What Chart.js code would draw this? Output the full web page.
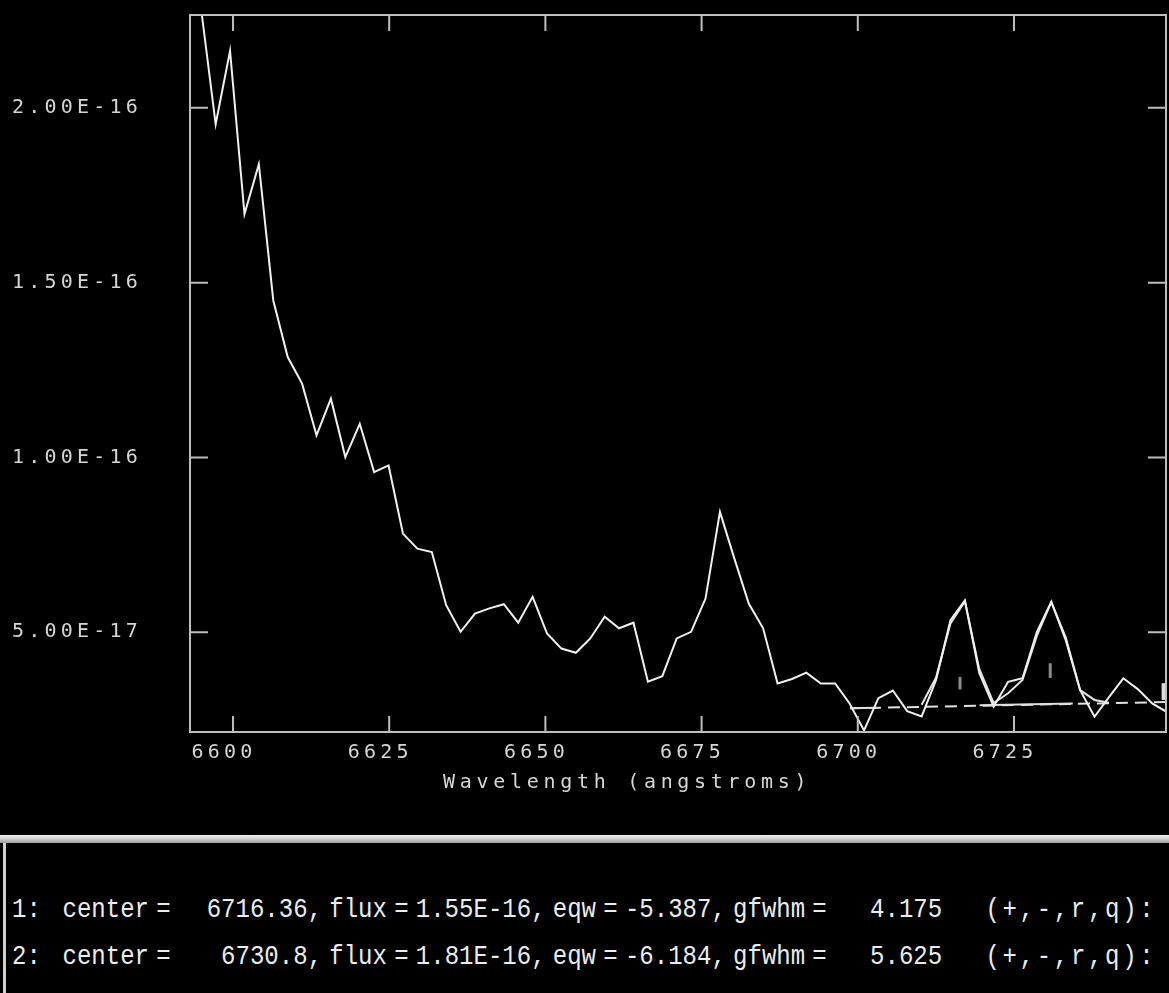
<!DOCTYPE html>
<html>
<head>
<meta charset="utf-8">
<title>splot deblend</title>
<script src="https://cdn.jsdelivr.net/npm/chart.js@4.4.0/dist/chart.umd.min.js"></script>
<style>
  html, body { margin: 0; padding: 0; background: #000; }
  body { width: 1169px; height: 993px; position: relative; overflow: hidden; }
  #plot { position: absolute; left: 0; top: 0; width: 1169px; height: 833px; }
  #panel { position: absolute; left: 0; top: 835px; width: 1169px; height: 158px; background: #000; }
  #bar { height: 8px; background: linear-gradient(#f0f0f0, #cfcfcf 50%, #9c9c9c); }
  #edge { position: absolute; left: 3px; top: 8px; bottom: 0; width: 3px; background: #d0d0d0; }
  .msg { position: absolute; left: 12px; font-family: "Liberation Mono", monospace; font-size: 27px;
         line-height: 30px; word-spacing: -8.1px; color: #ececec; white-space: pre;
         transform: scaleX(0.89); transform-origin: left center; }
  .msg .q { letter-spacing: 3px; }
</style>
</head>
<body>
<div id="plot"><canvas id="spec"></canvas></div>
<div id="panel">
  <div id="bar"></div>
  <div id="edge"></div>
  <div class="msg" style="top:60px">1:   center =     6716.36, flux = 1.55E-16, eqw = -5.387, gfwhm =      4.175      <span class="q">(+,-,r,q):</span></div>
  <div class="msg" style="top:107px">2:   center =       6730.8, flux = 1.81E-16, eqw = -6.184, gfwhm =      5.625      <span class="q">(+,-,r,q):</span></div>
</div>
<script>
// observed spectrum, flux in units of 1e-17
const wavelengths = [
  6594.92, 6597.23, 6599.53, 6601.84, 6604.14, 6606.45, 6608.76, 6611.06, 6613.37, 6615.67,
  6617.98, 6620.29, 6622.59, 6624.90, 6627.20, 6629.51, 6631.82, 6634.12, 6636.43, 6638.73,
  6641.04, 6643.35, 6645.65, 6647.96, 6650.26, 6652.57, 6654.88, 6657.18, 6659.49, 6661.79,
  6664.10, 6666.41, 6668.71, 6671.02, 6673.32, 6675.63, 6677.94, 6680.24, 6682.55, 6684.85,
  6687.16, 6689.47, 6691.77, 6694.08, 6696.38, 6698.69, 6701.00, 6703.30, 6705.61, 6707.91,
  6710.22, 6712.53, 6714.83, 6717.14, 6719.44, 6721.75, 6724.06, 6726.36, 6728.67, 6730.97,
  6733.28, 6735.59, 6737.89, 6740.20, 6742.50, 6744.81, 6747.12, 6749.42
];
const flux = [
  22.8, 19.53, 21.63, 16.96, 18.39, 14.49, 12.87, 12.11, 10.63, 11.68,
  10.01, 10.96, 9.58, 9.77, 7.82, 7.39, 7.29, 5.77, 5.01, 5.53,
  5.68, 5.80, 5.27, 6.01, 4.96, 4.53, 4.41, 4.82, 5.44, 5.11,
  5.27, 3.58, 3.74, 4.82, 5.01, 5.96, 8.44, 7.11, 5.82, 5.11,
  3.53, 3.66, 3.84, 3.53, 3.53, 2.96, 2.19, 3.11, 3.33, 2.74,
  2.59, 3.63, 5.34, 5.91, 3.83, 2.87, 3.58, 3.68, 5.01, 5.87,
  4.77, 3.34, 2.58, 3.14, 3.68, 3.37, 2.96, 2.72
];

// deblended fit (two lines + continuum)
const fitWave = [6710.22, 6712.53, 6714.83, 6717.14, 6719.44, 6721.75, 6724.06, 6726.36,
                 6728.67, 6730.97, 6733.28, 6735.59, 6737.89, 6740.20];
const fitFlux = [2.92, 3.70, 5.25, 5.88, 3.95, 2.97, 3.25, 3.63, 4.90, 5.86, 4.85, 3.34, 3.06, 2.98];

// continuum level
const contWave = [6698.75, 6749.40];
const contFlux = [2.82, 3.00];
const contSolidA = { wave: [6698.75, 6703.10], flux: [2.82, 2.84] };
const contSolidB = { wave: [6719.50, 6734.40], flux: [2.91, 2.96] };

// fitted line centres marks
const markWave = [6716.36, 6730.80];
const markLow = [3.36, 3.69];
const markHigh = [3.72, 4.11];
const cursorWave = 6748.95;
const cursorFlux = [3.06, 3.54];

const xTicks = [6600, 6625, 6650, 6675, 6700, 6725];
const yTicks = [5, 10, 15, 20];
const yTickLabels = ["5.00E-17", "1.00E-16", "1.50E-16", "2.00E-16"];
const xTitle = "Wavelength (angstroms)";

function pts(xs, ys) {
  return xs.map((w, i) => ({ x: w, y: ys[i] }));
}

const white = "#f0f0f0";
const axisGray = "#bdbdbd";
const labelFont = { family: "'DejaVu Sans Mono', monospace", size: 20 };

const datasets = [
  { data: pts(wavelengths, flux), borderColor: white, borderWidth: 2 },
  { data: pts(fitWave, fitFlux), borderColor: "#e4e4e4", borderWidth: 2 },
  { data: pts(contWave, contFlux), borderColor: "#e0e0e0", borderWidth: 2, borderDash: [12, 7] },
  { data: pts(contSolidA.wave, contSolidA.flux), borderColor: "#e0e0e0", borderWidth: 2 },
  { data: pts(contSolidB.wave, contSolidB.flux), borderColor: "#e0e0e0", borderWidth: 2 }
];
markWave.forEach((w, i) => {
  datasets.push({ data: [{ x: w, y: markLow[i] }, { x: w, y: markHigh[i] }], borderColor: "#8c8c8c", borderWidth: 3 });
});
datasets.push({ data: [{ x: cursorWave, y: cursorFlux[0] }, { x: cursorWave, y: cursorFlux[1] }], borderColor: "#dcdcdc", borderWidth: 4 });

const frame = {
  id: "frame",
  beforeDraw(chart) {
    chart.ctx.letterSpacing = "4.2px";
  },
  afterDraw(chart) {
    const { ctx, chartArea: a, scales } = chart;
    ctx.save();
    ctx.letterSpacing = "0px";
    ctx.strokeStyle = axisGray;
    ctx.lineWidth = 2;
    ctx.strokeRect(a.left, a.top, a.right - a.left, a.bottom - a.top);
    ctx.beginPath();
    scales.x.ticks.forEach(t => {
      const px = scales.x.getPixelForValue(t.value);
      ctx.moveTo(px, a.bottom); ctx.lineTo(px, a.bottom - 16);
      ctx.moveTo(px, a.top); ctx.lineTo(px, a.top + 16);
    });
    scales.y.ticks.forEach(t => {
      const py = scales.y.getPixelForValue(t.value);
      ctx.moveTo(a.left, py); ctx.lineTo(a.left + 18, py);
      ctx.moveTo(a.right, py); ctx.lineTo(a.right - 18, py);
    });
    ctx.stroke();
    ctx.letterSpacing = "4.7px";
    ctx.font = "20px 'DejaVu Sans Mono', monospace";
    ctx.fillStyle = "#d6d6d6";
    ctx.textAlign = "left";
    ctx.textBaseline = "middle";
    ctx.fillText(xTitle, 443, 783);
    ctx.restore();
  }
};

new Chart(document.getElementById("spec"), {
  type: "line",
  data: { datasets: datasets },
  options: {
    responsive: true,
    maintainAspectRatio: false,
    animation: false,
    events: [],
    layout: { padding: { left: 12, top: 14, right: 3, bottom: 0 } },
    elements: { point: { radius: 0 }, line: { tension: 0 } },
    plugins: { legend: { display: false }, tooltip: { enabled: false } },
    scales: {
      x: {
        type: "linear",
        min: 6593.12,
        max: 6749.33,
        afterBuildTicks: s => { s.ticks = xTicks.map(v => ({ value: v })); },
        afterFit: s => { s.height = 101; },
        grid: { display: false, drawTicks: false },
        border: { display: false },
        ticks: {
          color: "#d6d6d6",
          font: labelFont,
          padding: 9,
          labelOffset: -9,
          maxRotation: 0,
          autoSkip: false,
          callback: v => String(v)
        }
      },
      y: {
        type: "linear",
        min: 2.143,
        max: 22.657,
        afterBuildTicks: s => { s.ticks = yTicks.map(v => ({ value: v })); },
        afterFit: s => { s.width = 178; },
        grid: { display: false, drawTicks: false },
        border: { display: false },
        ticks: {
          color: "#d6d6d6",
          font: labelFont,
          crossAlign: "far",
          callback: v => yTickLabels[yTicks.indexOf(v)]
        }
      }
    }
  },
  plugins: [frame]
});
</script>
</body>
</html>
